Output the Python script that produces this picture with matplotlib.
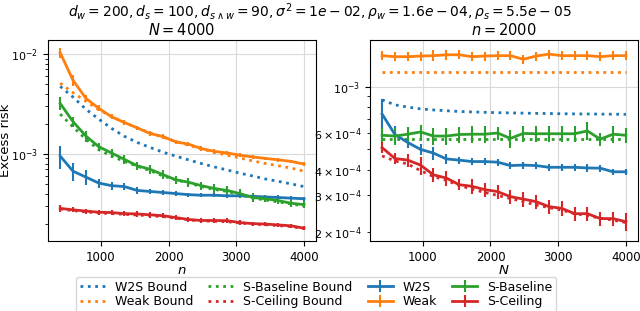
import numpy as np
import matplotlib
matplotlib.use("Agg")
import matplotlib.pyplot as plt

# x grid (n on the left, N on the right)
xs = np.linspace(400, 4000, 20)

# left panel: N = 4000, varying n
left_w2s = [0.95e-3, 0.67e-3, 0.585e-3, 0.51e-3, 0.48e-3, 0.47e-3, 0.43e-3, 0.42e-3, 0.41e-3, 0.40e-3,
            0.39e-3, 0.385e-3, 0.385e-3, 0.38e-3, 0.38e-3, 0.375e-3, 0.37e-3, 0.365e-3, 0.36e-3, 0.355e-3]
left_weak = [1.03e-2, 5.45e-3, 3.6e-3, 2.86e-3, 2.35e-3, 2.06e-3, 1.82e-3, 1.6e-3, 1.49e-3, 1.32e-3,
             1.25e-3, 1.13e-3, 1.06e-3, 1.02e-3, 0.97e-3, 0.93e-3, 0.90e-3, 0.87e-3, 0.84e-3, 0.79e-3]
left_base = [3.2e-3, 2.1e-3, 1.51e-3, 1.18e-3, 1.02e-3, 0.88e-3, 0.76e-3, 0.70e-3, 0.62e-3, 0.55e-3,
             0.52e-3, 0.48e-3, 0.45e-3, 0.43e-3, 0.40e-3, 0.365e-3, 0.355e-3, 0.34e-3, 0.32e-3, 0.31e-3]
left_ceil = [0.284e-3, 0.275e-3, 0.267e-3, 0.26e-3, 0.258e-3, 0.252e-3, 0.25e-3, 0.245e-3, 0.24e-3, 0.23e-3,
             0.22e-3, 0.215e-3, 0.215e-3, 0.214e-3, 0.205e-3, 0.20e-3, 0.198e-3, 0.194e-3, 0.19e-3, 0.18e-3]
left_w2s_bd = [4.74e-3, 3.7e-3, 2.8e-3, 2.23e-3, 1.8e-3, 1.5e-3, 1.3e-3, 1.16e-3, 1.04e-3, 0.95e-3,
               0.87e-3, 0.8e-3, 0.74e-3, 0.69e-3, 0.64e-3, 0.6e-3, 0.56e-3, 0.53e-3, 0.5e-3, 0.47e-3]
left_weak_bd = [5.1e-3, 4.1e-3, 3.37e-3, 2.77e-3, 2.37e-3, 2.06e-3, 1.82e-3, 1.62e-3, 1.47e-3, 1.33e-3,
                1.22e-3, 1.12e-3, 1.04e-3, 0.97e-3, 0.91e-3, 0.85e-3, 0.8e-3, 0.76e-3, 0.72e-3, 0.67e-3]
left_base_bd = [2.5e-3, 1.86e-3, 1.4e-3, 1.1e-3, 0.95e-3, 0.84e-3, 0.75e-3, 0.68e-3, 0.6e-3, 0.55e-3,
                0.51e-3, 0.47e-3, 0.44e-3, 0.42e-3, 0.39e-3, 0.36e-3, 0.345e-3, 0.33e-3, 0.315e-3, 0.30e-3]
left_ceil_bd = [0.28e-3, 0.27e-3, 0.262e-3, 0.256e-3, 0.252e-3, 0.248e-3, 0.244e-3, 0.24e-3, 0.235e-3, 0.227e-3,
                0.218e-3, 0.213e-3, 0.211e-3, 0.209e-3, 0.203e-3, 0.198e-3, 0.195e-3, 0.191e-3, 0.187e-3, 0.178e-3]
# relative error bar half-widths
left_w2s_err = [0.25, 0.2, 0.17, 0.1, 0.1, 0.08, 0.07, 0.06, 0.05, 0.05,
                0.05, 0.05, 0.05, 0.05, 0.05, 0.05, 0.05, 0.05, 0.05, 0.05]
left_weak_err = [0.12, 0.12, 0.07, 0.07, 0.06, 0.06, 0.05, 0.05, 0.05, 0.05,
                 0.05, 0.05, 0.05, 0.05, 0.04, 0.04, 0.04, 0.04, 0.04, 0.04]
left_base_err = [0.15, 0.12, 0.12, 0.1, 0.1, 0.1, 0.1, 0.1, 0.1, 0.1,
                 0.1, 0.1, 0.1, 0.1, 0.1, 0.1, 0.08, 0.08, 0.08, 0.08]
left_ceil_err = [0.07, 0.06, 0.06, 0.06, 0.06, 0.06, 0.06, 0.06, 0.06, 0.06,
                 0.06, 0.06, 0.06, 0.06, 0.05, 0.05, 0.05, 0.05, 0.05, 0.05]

# right panel: n = 2000, varying N
right_w2s = [0.74e-3, 0.59e-3, 0.54e-3, 0.50e-3, 0.48e-3, 0.45e-3, 0.444e-3, 0.437e-3, 0.437e-3, 0.434e-3,
             0.418e-3, 0.42e-3, 0.418e-3, 0.41e-3, 0.41e-3, 0.41e-3, 0.407e-3, 0.406e-3, 0.39e-3, 0.39e-3]
right_weak = [1.416e-3, 1.40e-3, 1.40e-3, 1.41e-3, 1.416e-3, 1.43e-3, 1.43e-3, 1.40e-3, 1.41e-3, 1.416e-3,
              1.416e-3, 1.36e-3, 1.41e-3, 1.44e-3, 1.416e-3, 1.416e-3, 1.416e-3, 1.40e-3, 1.416e-3, 1.416e-3]
right_base = [0.585e-3, 0.58e-3, 0.592e-3, 0.607e-3, 0.58e-3, 0.58e-3, 0.59e-3, 0.592e-3, 0.592e-3, 0.60e-3,
              0.565e-3, 0.597e-3, 0.595e-3, 0.595e-3, 0.595e-3, 0.595e-3, 0.614e-3, 0.56e-3, 0.592e-3, 0.585e-3]
right_ceil = [0.51e-3, 0.452e-3, 0.444e-3, 0.42e-3, 0.377e-3, 0.364e-3, 0.338e-3, 0.332e-3, 0.32e-3, 0.313e-3,
              0.296e-3, 0.288e-3, 0.28e-3, 0.265e-3, 0.26e-3, 0.245e-3, 0.245e-3, 0.232e-3, 0.232e-3, 0.224e-3]
right_w2s_bd = [0.867e-3, 0.82e-3, 0.80e-3, 0.784e-3, 0.775e-3, 0.768e-3, 0.762e-3, 0.758e-3, 0.755e-3, 0.752e-3,
                0.75e-3, 0.748e-3, 0.746e-3, 0.745e-3, 0.743e-3, 0.742e-3, 0.741e-3, 0.74e-3, 0.739e-3, 0.738e-3]
right_weak_bd = [1.175e-3] * 20
right_base_bd = [0.56e-3] * 20
right_ceil_bd = [0.465e-3, 0.44e-3, 0.425e-3, 0.395e-3, 0.37e-3, 0.355e-3, 0.335e-3, 0.322e-3, 0.31e-3, 0.30e-3,
                 0.29e-3, 0.28e-3, 0.27e-3, 0.262e-3, 0.255e-3, 0.245e-3, 0.24e-3, 0.233e-3, 0.228e-3, 0.222e-3]
right_w2s_err = [0.18, 0.1, 0.06, 0.06, 0.07, 0.06, 0.04, 0.04, 0.04, 0.04,
                 0.04, 0.04, 0.04, 0.04, 0.04, 0.04, 0.04, 0.04, 0.03, 0.03]
right_weak_err = [0.05, 0.05, 0.05, 0.05, 0.06, 0.06, 0.05, 0.05, 0.05, 0.05,
                  0.05, 0.05, 0.05, 0.05, 0.05, 0.05, 0.05, 0.05, 0.05, 0.05]
right_base_err = [0.08, 0.09, 0.08, 0.08, 0.09, 0.09, 0.09, 0.09, 0.09, 0.07,
                  0.1, 0.09, 0.09, 0.09, 0.09, 0.09, 0.1, 0.07, 0.09, 0.08]
right_ceil_err = [0.06, 0.06, 0.07, 0.1, 0.08, 0.08, 0.06, 0.08, 0.08, 0.08,
                  0.08, 0.08, 0.08, 0.08, 0.08, 0.08, 0.08, 0.08, 0.08, 0.1]

title = (r"$d_w = 200, d_s = 100, d_{s\wedge w} = 90, \sigma^2 = 1e-02, "
         r"\rho_w = 1.6e-04, \rho_s = 5.5e-05$")

plt.rcParams["xtick.labelsize"] = 8.5
plt.rcParams["ytick.labelsize"] = 8


def draw(ax, bounds, means, errs):
    names = ["W2S", "Weak", "S-Baseline", "S-Ceiling"]
    cols = ["C0", "C1", "C2", "C3"]
    for name, c, b in zip(names, cols, bounds):
        ax.plot(xs, b, ":", color=c, lw=2, label=name + " Bound")
    for name, c, m, e in zip(names, cols, means, errs):
        m = np.array(m)
        ax.errorbar(xs, m, yerr=m * np.array(e), color=c, lw=2, elinewidth=1.5,
                    capsize=0, label=name)
    ax.set_yscale("log")
    ax.grid(True, color="#d9d9d9")
    ax.set_xticks([1000, 2000, 3000, 4000])


fig = plt.figure(figsize=(6.4, 3.11), dpi=100)
ax1 = fig.add_axes([0.075, 0.2235, 0.419, 0.6475])
ax2 = fig.add_axes([0.578, 0.2235, 0.419, 0.6475])

draw(ax1, [left_w2s_bd, left_weak_bd, left_base_bd, left_ceil_bd],
     [left_w2s, left_weak, left_base, left_ceil],
     [left_w2s_err, left_weak_err, left_base_err, left_ceil_err])
draw(ax2, [right_w2s_bd, right_weak_bd, right_base_bd, right_ceil_bd],
     [right_w2s, right_weak, right_base, right_ceil],
     [right_w2s_err, right_weak_err, right_base_err, right_ceil_err])

ax1.set_ylim(10 ** -3.878, 10 ** -1.861)
ax2.set_ylim(10 ** -3.745, 10 ** -2.774)
ax1.set_xlabel("$n$", fontsize=9.5, labelpad=0)
ax2.set_xlabel("$N$", fontsize=9.5, labelpad=0)
ax1.set_ylabel("Excess risk", fontsize=9.5)
ax1.yaxis.set_label_coords(-0.135, 0.5)
ax1.set_title("$N = 4000$", fontsize=10.5, pad=4)
ax2.set_title("$n = 2000$", fontsize=10.5, pad=4)
fig.suptitle(title, fontsize=10, y=0.995)

h, l = ax1.get_legend_handles_labels()
fig.legend(h, l, ncol=4, loc="lower center", bbox_to_anchor=(0.494, -0.012),
           fontsize=9, handlelength=2, columnspacing=1.2, borderaxespad=0.2,
           labelspacing=0.15, borderpad=0.3)

fig.savefig("out.png", dpi=100)
